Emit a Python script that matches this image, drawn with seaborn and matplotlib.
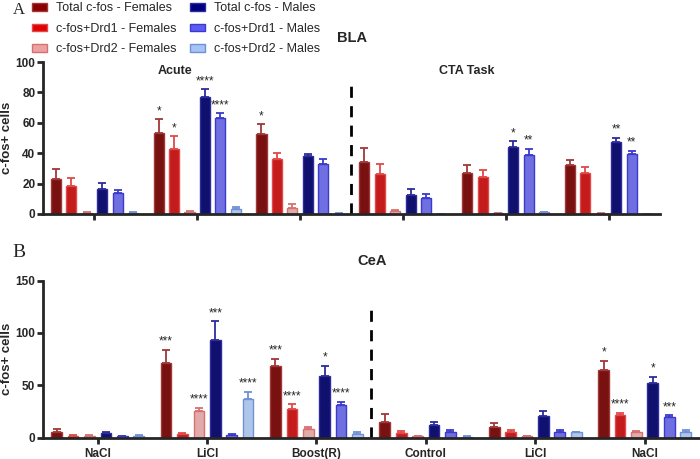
import numpy as np
import pandas as pd
import matplotlib.pyplot as plt
import seaborn as sns
from matplotlib.patches import Patch
from matplotlib.container import BarContainer

series = ["Total c-fos - Females", "c-fos+Drd1 - Females", "c-fos+Drd2 - Females",
          "Total c-fos - Males", "c-fos+Drd1 - Males", "c-fos+Drd2 - Males"]
fills = ["#8b0000", "#e00000", "#eba2a2", "#00007f", "#5c5cf5", "#a5c4f5"]
edges = ["#a03838", "#e24848", "#d87070", "#2c2c9c", "#3a3acc", "#7090d8"]

# BLA (panel A), six groups, no tick labels
bla_groups = ["A1", "A2", "A3", "C1", "C2", "C3"]
bla_means = [
    [23, 53.5, 52.5, 34, 27, 32],
    [18.5, 43, 36, 26.5, 24.5, 27.2],
    [0.8, 1.2, 4, 2, 0.5, 0.3],
    [16.5, 77, 38, 12.7, 43.8, 47.6],
    [13.5, 63, 33, 10.7, 39, 39.7],
    [0.7, 3.5, 0.3, 0.2, 1, 0.2],
]
bla_err = [
    [6.5, 8.8, 6.5, 9.2, 5, 3.5],
    [5.2, 8.2, 4, 6.4, 4.5, 3.5],
    [0.3, 0.6, 2.6, 0.6, 0.3, 0.2],
    [3.7, 5, 1.3, 3.7, 4.2, 2.6],
    [2, 3.2, 3, 2.5, 4, 2],
    [0.3, 1.2, 0.2, 0.1, 0.3, 0.1],
]
bla_stars = [(1, 0, "*"), (1, 1, "*"), (1, 3, "****"), (1, 4, "****"), (2, 0, "*"),
             (4, 3, "*"), (4, 4, "**"), (5, 3, "**"), (5, 4, "**")]

# CeA (panel B)
cea_groups = ["NaCl", "LiCl", "Boost(R)", "Control", "LiCl ", "NaCl "]
cea_labels = ["NaCl", "LiCl", "Boost(R)", "Control", "LiCl", "NaCl"]
cea_means = [
    [5.5, 71.6, 68, 14.8, 10.3, 65],
    [1.5, 3, 26.8, 4.3, 4.9, 21.1],
    [1.5, 25.5, 7.8, 1, 1, 5.5],
    [4.7, 93, 58.6, 11.6, 20.5, 52.5],
    [1, 2, 31, 4.9, 5.2, 19.2],
    [1.5, 36.4, 3.3, 0.8, 5, 5],
]
cea_err = [
    [2.5, 12.4, 7.4, 7.6, 3.7, 8.5],
    [0.8, 1.5, 4.8, 1.9, 2.2, 2.5],
    [0.7, 3.2, 1.9, 0.5, 0.5, 1],
    [0.5, 18, 10, 3.2, 4.7, 5.5],
    [0.3, 1.3, 3, 2.2, 1.9, 1.9],
    [0.5, 7.6, 2.2, 0.3, 0.5, 2],
]
cea_stars = [(1, 0, "***"), (1, 2, "****"), (1, 3, "***"), (1, 5, "****"),
             (2, 0, "***"), (2, 1, "****"), (2, 3, "*"), (2, 4, "****"),
             (5, 0, "*"), (5, 1, "****"), (5, 3, "*"), (5, 4, "***")]

sns.set_style("ticks")
plt.rcParams["font.family"] = ["Liberation Sans", "DejaVu Sans"]
plt.rcParams["font.weight"] = "bold"


def make_df(groups, means):
    rows = []
    for s, vals in zip(series, means):
        for g, v in zip(groups, vals):
            rows.append({"group": g, "series": s, "value": v})
    return pd.DataFrame(rows)


def panel(ax, groups, means, errs, stars, ymax, yticks, vline_top, label_x):
    df = make_df(groups, means)
    sns.barplot(data=df, x="group", y="value", hue="series", hue_order=series,
                order=groups, palette=fills, width=0.9, gap=0.35, legend=False,
                ax=ax, linewidth=1, edgecolor="none")
    bars = [c for c in ax.containers if isinstance(c, BarContainer)]
    tops = {}
    for si, cont in enumerate(bars):
        for gi, bar in enumerate(cont.patches):
            bar.set_edgecolor(edges[si])
            bar.set_linewidth(1)
            xc = bar.get_x() + bar.get_width() / 2
            h = bar.get_height()
            e = errs[si][gi]
            ax.errorbar(xc, h, yerr=[[0], [e]], fmt="none", ecolor=edges[si],
                        elinewidth=1.3, capsize=3, capthick=1.3, zorder=1)
            tops[(gi, si)] = (xc, h + e)
    for gi, si, txt in stars:
        xc, yt = tops[(gi, si)]
        ax.annotate(txt, (xc, yt), xytext=(0, 1.5), textcoords="offset points",
                    ha="center", va="bottom", fontsize=8.5, fontweight="normal")
    ax.vlines(2.5, 0, vline_top, colors="black", linestyles=(0, (4, 3)), linewidth=2)
    ax.set_xlim(-0.5, 5.5)
    ax.set_ylim(0, ymax)
    ax.set_yticks(yticks)
    ax.set_ylabel("c-fos+ cells", fontsize=9.5, fontweight="bold")
    ax.yaxis.set_label_coords(label_x, 0.5)
    ax.set_xlabel("")
    sns.despine(ax=ax)
    for sp in ["left", "bottom"]:
        ax.spines[sp].set_linewidth(2)
    ax.tick_params(axis="both", width=2, length=4, labelsize=8.5)
    ax.tick_params(axis="y", pad=1.5)
    for lab in ax.get_yticklabels():
        lab.set_fontweight("bold")


fig = plt.figure(figsize=(7, 4.59), dpi=100)
ax1 = fig.add_axes([0.0614, 0.5338, 0.8814, 0.331])
ax2 = fig.add_axes([0.0614, 0.0468, 0.9376, 0.3417])

panel(ax1, bla_groups, bla_means, bla_err, bla_stars, 100, [0, 20, 40, 60, 80, 100], 88, -0.048)
ax1.set_xticks(range(6))
ax1.set_xticklabels([])
ax1.text(0.78, 94, "Acute", ha="center", va="center", fontsize=9, fontweight="bold")
ax1.text(3.62, 94, "CTA Task", ha="center", va="center", fontsize=9, fontweight="bold")

panel(ax2, cea_groups, cea_means, cea_err, cea_stars, 150, [0, 50, 100, 150], 128, -0.045)
ax2.set_xticks(range(6))
ax2.set_xticklabels(cea_labels, fontweight="bold", fontsize=8.5)

fig.text(0.503, 0.917, "BLA", ha="center", va="center", fontsize=10.5, fontweight="bold")
fig.text(0.531, 0.432, "CeA", ha="center", va="center", fontsize=10.5, fontweight="bold")
fig.text(0.018, 0.978, "A", ha="left", va="center", fontsize=12,
         family=["Liberation Serif", "DejaVu Serif"], fontweight="normal")
fig.text(0.018, 0.45, "B", ha="left", va="center", fontsize=14,
         family=["Liberation Serif", "DejaVu Serif"], fontweight="normal")

handles = [Patch(facecolor=f, edgecolor=e, linewidth=1) for f, e in zip(fills, edges)]
fig.legend(handles, series, ncol=2, loc="upper left", bbox_to_anchor=(0.045, 0.995),
           frameon=False, handlelength=1.2, handleheight=0.55,
           handletextpad=0.8, labelspacing=0.68, columnspacing=1.0,
           borderpad=0, borderaxespad=0, prop={"weight": "normal", "size": 9})

fig.savefig("out.png", dpi=100)
